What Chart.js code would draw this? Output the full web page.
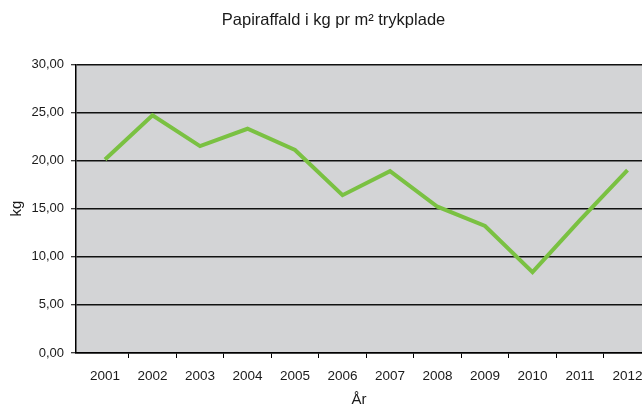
<!DOCTYPE html>
<html><head><meta charset="utf-8">
<script src="https://cdn.jsdelivr.net/npm/chart.js@4/dist/chart.umd.min.js"></script>
<style>html,body{margin:0;padding:0;background:#fff}#wrap{width:642px;height:407px;position:relative}</style>
</head><body><div id="wrap"><canvas id="c"></canvas></div>
<script>
const years = [2001, 2002, 2003, 2004, 2005, 2006, 2007, 2008, 2009, 2010, 2011, 2012];
const paperWasteKg = [20.1, 24.7, 21.5, 23.3, 21.1, 16.4, 18.9, 15.2, 13.2, 8.4, 13.8, 19.0];
const yTicks = [0, 5, 10, 15, 20, 25, 30];
const chartTitle = 'Papiraffald i kg pr m² trykplade';
const xTitle = 'År';
const yTitle = 'kg';

const FONT = 'Liberation Sans, Arial, sans-serif';
const TEXT = '#1a1a1a';

const plotBg = {
  id: 'plotBg',
  afterLayout(chart) {
    if (chart.titleBlock) { chart.titleBlock.left = 25; }
  },
  beforeDraw(chart) {
    const {ctx, chartArea: a} = chart;
    ctx.save();
    ctx.fillStyle = '#d3d4d6';
    ctx.fillRect(a.left, a.top, a.right - a.left, a.bottom - a.top);
    ctx.restore();
  }
};

new Chart(document.getElementById('c'), {
  type: 'line',
  data: {
    datasets: [{
      data: years.map((yr, i) => ({x: yr, y: paperWasteKg[i]})),
      borderColor: '#7ac142',
      borderWidth: 4,
      borderJoinStyle: 'miter',
      borderCapStyle: 'butt',
      pointRadius: 0,
      tension: 0,
      fill: false
    }]
  },
  options: {
    responsive: true,
    maintainAspectRatio: false,
    animation: false,
    layout: {padding: 0},
    plugins: {
      legend: {display: false},
      tooltip: {enabled: false},
      title: {
        display: true,
        text: chartTitle,
        color: TEXT,
        font: {family: FONT, size: 16.5, weight: 'normal', lineHeight: 1.2},
        padding: {top: 10.6, bottom: 33.9}
      }
    },
    scales: {
      x: {
        type: 'linear',
        min: 2000.389,
        max: 2012.305,
        afterBuildTicks: s => { s.ticks = years.map(v => ({value: v})); },
        afterFit: s => { s.height = 54; s.paddingLeft = 0; s.paddingRight = 0; },
        ticks: {
          color: TEXT,
          font: {family: FONT, size: 13.5},
          padding: 10,
          maxRotation: 0,
          autoSkip: false,
          callback: v => String(v)
        },
        grid: {
          offset: true,
          drawOnChartArea: false,
          drawTicks: true,
          tickLength: 5,
          tickColor: c => c.index === 0 ? 'rgba(0,0,0,0)' : '#000',
          tickWidth: 1
        },
        border: {display: true, color: '#000', width: 1.5},
        title: {
          display: true,
          text: xTitle,
          color: TEXT,
          font: {family: FONT, size: 15, lineHeight: 0.9},
          padding: {top: 0, bottom: 0}
        }
      },
      y: {
        min: 0,
        max: 30,
        afterBuildTicks: s => { s.ticks = yTicks.map(v => ({value: v})); },
        afterFit: s => { s.width = 76; s.paddingTop = 0; s.paddingBottom = 0; },
        ticks: {
          color: TEXT,
          font: {family: FONT, size: 13},
          padding: 7,
          callback: v => Number(v).toFixed(2).replace('.', ',')
        },
        grid: {
          color: '#111',
          lineWidth: 1.5,
          drawTicks: true,
          tickLength: 5,
          tickColor: '#000',
          tickWidth: 1
        },
        border: {display: true, color: '#000', width: 1.5},
        title: {
          display: true,
          text: yTitle,
          color: TEXT,
          font: {family: FONT, size: 15, lineHeight: 1.2},
          padding: {top: 7.5, bottom: 0}
        }
      }
    }
  },
  plugins: [plotBg]
});
</script>
</body></html>
